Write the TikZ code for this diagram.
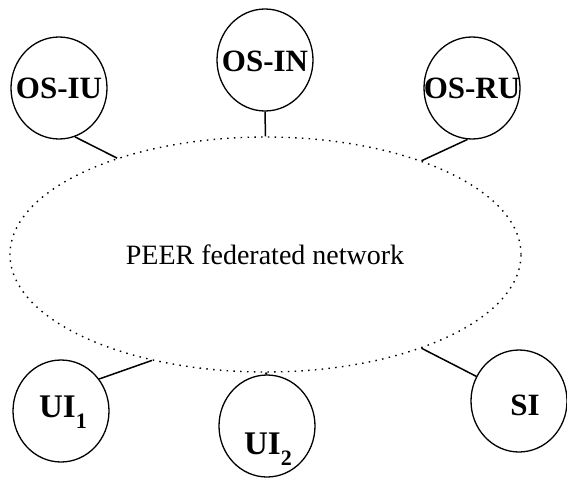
\documentclass[tikz,border=0pt]{standalone}
\usepackage{fontspec}
\setmainfont{Liberation Serif}
\usetikzlibrary{shapes.geometric}
\newcommand\lowidx[1]{\raisebox{-11pt}{\fontsize{22}{23}\selectfont\bfseries #1}}
\begin{document}
\begin{tikzpicture}[x=1pt,y=-1pt,
  ring/.style={ellipse, draw, line width=1.3pt, minimum width=96pt, minimum height=102pt, inner sep=0pt},
  lbl/.style={font=\fontsize{31}{33}\selectfont\bfseries, inner sep=0pt},
  uilbl/.style={font=\fontsize{33}{35}\selectfont\bfseries, inner sep=0pt},
  link/.style={line width=1.5pt},
  cloud/.style={ellipse, draw, line width=1.4pt, dash pattern=on 1.5pt off 5.3pt, minimum width=511pt, minimum height=235pt, inner sep=0pt}]
\useasboundingbox (0,0) rectangle (567,477);
\node[cloud] (net) at (265.5,254.5) {};
\node[font=\fontsize{28}{30}\selectfont, anchor=base, inner sep=0pt] (nettxt) at (265,264) {PEER federated network};

\node[ring] (osiu) at (59,88) {};
\node[lbl] (osiut) at (59,88) {OS-IU};
\node[ring] (osin) at (265,60) {};
\node[lbl] (osint) at (265,61) {OS-IN};
\node[ring] (osru) at (472,88) {};
\node[lbl] (osrut) at (472,88) {OS-RU};
\node[ring] (uione) at (61,411) {};
\node[uilbl] (uionet) at (63,412) {UI\lowidx{1}};
\node[ring] (uitwo) at (267,426) {};
\node[uilbl] (uitwot) at (268,449) {UI\lowidx{2}};
\node[ring] (si) at (519,401) {};
\node[lbl] (sit) at (525,405) {SI};

\draw[link] (osiu.-72) -- (net.147);
\draw[link] (osin.south) -- (net.north);
\draw[link] (osru.-95) -- (net.31);
\draw[link] (uione.40) -- (net.-137);
\draw[link] (uitwo.north) -- (net.south);
\draw[link] (si.150) -- (net.-31);
\end{tikzpicture}
\end{document}
